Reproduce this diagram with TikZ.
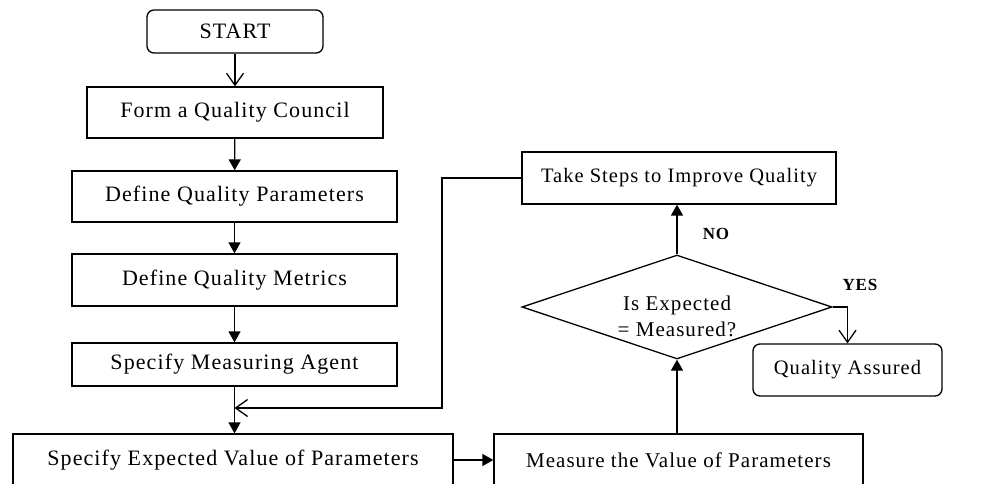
\documentclass[tikz,border=0pt]{standalone}
\usepackage{fontspec}
\setmainfont{Liberation Serif}[LetterSpace=5]
\usetikzlibrary{arrows.meta,shapes.geometric}
\tikzset{
  x=1pt, y=-1pt,
  box/.style={draw, line width=1.3pt, inner sep=0pt, minimum height=51pt, font=\fontsize{22}{26}\selectfont},
  rightbox/.style={box, font=\fontsize{20.5}{25}\selectfont},
  rbox/.style={box, rounded corners=7pt},
  conn/.style={line width=1.3pt},
  fill arrow/.style={conn, -{Triangle[length=11pt,width=12pt]}},
  barb arrow/.style={conn, -{Straight Barb[length=12pt,width=17pt,line width=1.3pt]}},
  lbl/.style={font=\bfseries\fontsize{17}{20}\selectfont},
}
\begin{document}
\begin{tikzpicture}
\useasboundingbox (0,0) rectangle (986,484);
\node[rbox, minimum width=176pt, minimum height=43pt] (start) at (235,31.5) {START};
\node[box, minimum width=296pt] (form) at (235,112.5) {Form a Quality Council};
\node[box, minimum width=325pt] (param) at (234.5,196.5) {Define Quality Parameters};
\node[box, minimum width=325pt, minimum height=52pt] (metric) at (234.5,280) {Define Quality Metrics};
\node[box, minimum width=325pt, minimum height=43pt] (agent) at (234.5,364.5) {Specify Measuring Agent};
\node[box, minimum width=440pt, minimum height=52pt] (expect) at (233,460) {Specify Expected Value of Parameters};
\node[box, font=\fontsize{21}{25}\selectfont, minimum width=369pt, minimum height=52pt] (measure) at (678.5,460) {Measure the Value of Parameters};
\node[rightbox, minimum width=314pt, minimum height=52pt] (take) at (679,178) {Take Steps to Improve Quality};
\node[rightbox, rounded corners=7pt, minimum width=189pt, minimum height=52pt] (qa) at (847.5,370) {Quality Assured};
\node[diamond, draw, line width=1.3pt, inner sep=0pt, minimum width=310pt, minimum height=104pt] (dec) at (677,307) {};
\node[align=center, font=\fontsize{21}{26}\selectfont, inner sep=0pt] (dectext) at (677,316) {Is Expected\\= Measured?};
\node[lbl] (no) at (716,234) {NO};
\node[lbl] (yes) at (860,285) {YES};

\draw[barb arrow] (start) -- (form);
\draw[fill arrow] (form) -- (param);
\draw[fill arrow] (param) -- (metric);
\draw[fill arrow] (metric) -- (agent);
\draw[fill arrow] (agent.south) -- (expect.north -| agent.south);
\draw[fill arrow] (expect.east |- measure.west) -- (measure.west);
\draw[fill arrow] (measure.north -| dec.south) -- (dec.south);
\draw[fill arrow] (dec.north) -- (take.south -| dec.north);
\coordinate (fbc) at (442,408);
\coordinate (join) at (234.5,408);
\draw[barb arrow] (take.west) -| (fbc) -- (join);
\draw[barb arrow] (dec.east) -| (qa.north);
\end{tikzpicture}
\end{document}
